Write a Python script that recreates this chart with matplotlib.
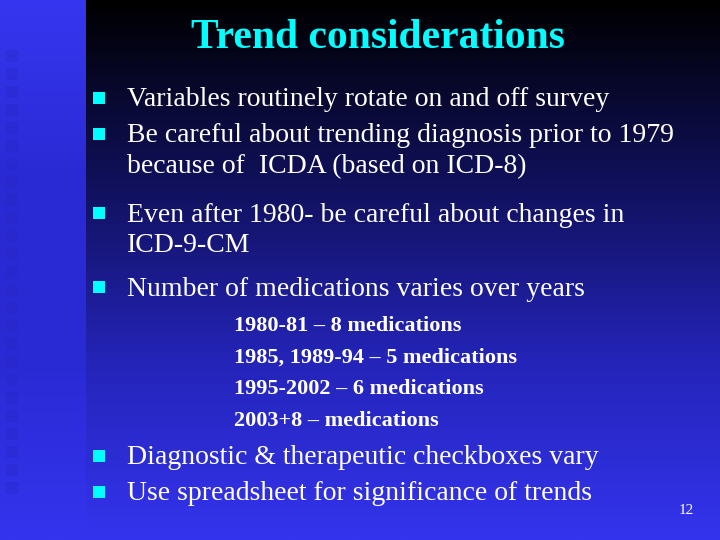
import matplotlib
matplotlib.use('Agg')
import matplotlib.pyplot as plt
import numpy as np
from matplotlib.colors import LinearSegmentedColormap

title = 'Trend considerations'
bullets = [
    (98, ['Variables routinely rotate on and off survey']),
    (134, ['Be careful about trending diagnosis prior to 1979',
           'because of  ICDA (based on ICD-8)']),
    (213, ['Even after 1980- be careful about changes in', 'ICD-9-CM']),
    (287, ['Number of medications varies over years']),
    (456, ['Diagnostic & therapeutic checkboxes vary']),
    (492, ['Use spreadsheet for significance of trends']),
]
sub_items = [
    '1980-81 \u2013 8 medications',
    '1985, 1989-94 \u2013 5 medications',
    '1995-2002 \u2013 6 medications',
    '2003+8 \u2013 medications',
]

fig = plt.figure(figsize=(7.2, 5.4), dpi=100)
ax = fig.add_axes([0, 0, 1, 1])

main = LinearSegmentedColormap.from_list('m', ['#000000', '#10105a', '#2424b8', '#3434ee'])
grad = np.linspace(0, 1, 256).reshape(-1, 1)
ax.imshow(grad, cmap=main, extent=(86, 720, 540, 0), aspect='auto')
strip = LinearSegmentedColormap.from_list('s', ['#3636f0', '#2a2ad4', '#2a2ad4', '#3434ee'])
ax.imshow(grad, cmap=strip, extent=(0, 86, 540, 0), aspect='auto')
for y in np.arange(50, 500, 18):
    ax.add_patch(plt.Rectangle((6, y), 12, 12, color='#2626c0', alpha=0.3, lw=0))

ax.set_xlim(0, 720)
ax.set_ylim(540, 0)
ax.axis('off')

ax.text(378, 38, title, ha='center', va='center', color='#00ffff',
        fontsize=30, fontweight='bold', family='Liberation Serif')

for y, lines in bullets:
    ax.add_patch(plt.Rectangle((93, y - 6), 12, 12, color='#00ffff', lw=0))
    for k, t in enumerate(lines):
        ax.text(127, y + 2 + k * 31, t, ha='left', va='center', color='white',
                fontsize=20, family='Liberation Serif')

for i, s in enumerate(sub_items):
    ax.text(234, 326 + i * 31.7, s, ha='left', va='center', color='white',
            fontsize=16, fontweight='bold', family='Liberation Serif')

ax.text(694, 511, '12', ha='right', va='center', color='white', fontsize=11,
        family='Liberation Serif')

fig.savefig('out.png', dpi=100)
